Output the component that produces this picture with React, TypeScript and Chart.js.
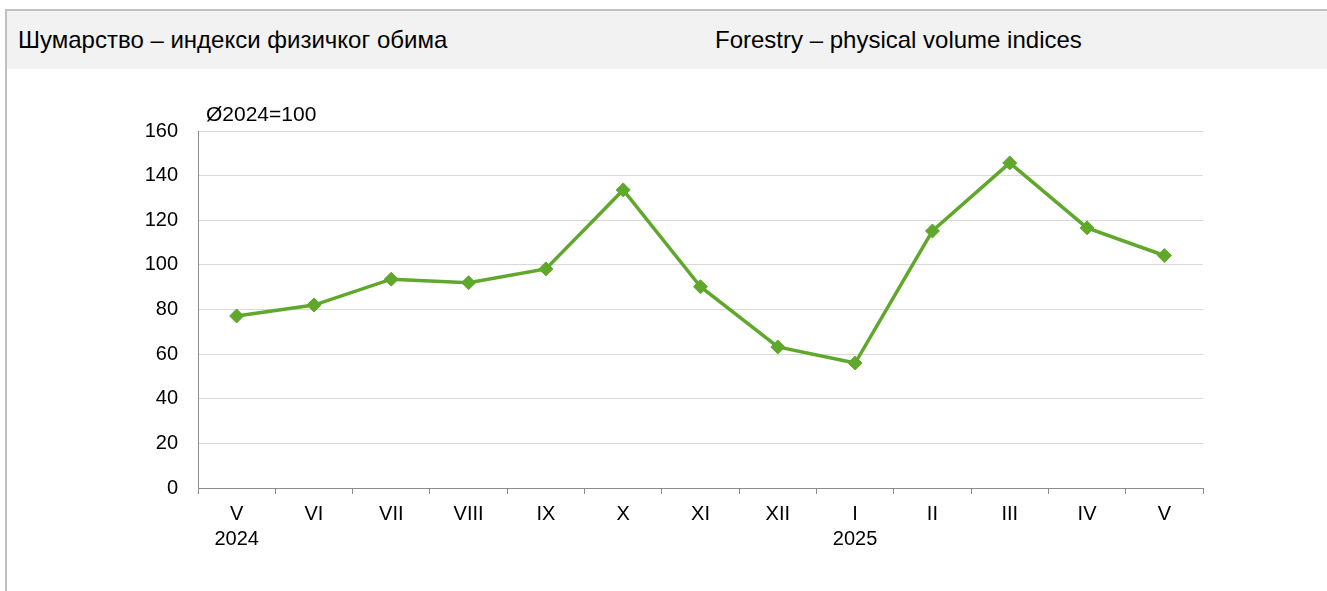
import React, { useEffect, useRef } from "react";
import { Chart, registerables } from "chart.js";

Chart.register(...registerables);

const categories: (string | string[])[] = [
  ["V", "2024"], "VI", "VII", "VIII", "IX", "X", "XI", "XII", ["I", "2025"], "II", "III", "IV", "V",
];
const forestryValues: number[] = [77.1, 82, 93.6, 92, 98.2, 133.6, 90.2, 63.2, 56, 115.2, 145.7, 116.6, 104.2];
const yTicks: number[] = [0, 20, 40, 60, 80, 100, 120, 140, 160];
const titleSr = "Шумарство – индекси физичког обима";
const titleEn = "Forestry – physical volume indices";
const yUnitLabel = "Ø2024=100";

const FONT = "'Liberation Sans', Arial, sans-serif";
const GREEN = "rgb(96,168,44)";

export default function App() {
  const canvasRef = useRef<HTMLCanvasElement | null>(null);

  useEffect(() => {
    const canvas = canvasRef.current;
    if (!canvas) return;
    const unitPlugin = {
      id: "unitLabel",
      afterDraw(chart: any) {
        const ctx = chart.ctx;
        ctx.save();
        ctx.font = `21px ${FONT}`;
        ctx.fillStyle = "#000";
        ctx.textBaseline = "middle";
        ctx.textAlign = "left";
        ctx.fillText(yUnitLabel, chart.chartArea.left + 8, chart.chartArea.top - 16);
        ctx.restore();
      },
    };
    const chart = new Chart(canvas, {
      type: "line",
      data: {
        labels: categories,
        datasets: [
          {
            data: forestryValues,
            borderColor: GREEN,
            backgroundColor: GREEN,
            borderWidth: 3.5,
            pointStyle: "rectRot",
            pointRadius: 7,
            pointBorderWidth: 1,
            pointBorderColor: GREEN,
            pointBackgroundColor: GREEN,
            tension: 0,
          },
        ],
      },
      options: {
        animation: false,
        responsive: false,
        maintainAspectRatio: false,
        layout: { padding: { left: 138, right: 124, top: 61, bottom: 33 } },
        plugins: { legend: { display: false }, tooltip: { enabled: false } },
        scales: {
          x: {
            type: "category",
            offset: true,
            grid: {
              offset: true,
              drawOnChartArea: false,
              drawTicks: true,
              tickLength: 6,
              color: "#8c8c8c",
            },
            border: { display: true, color: "#8c8c8c", width: 1 },
            ticks: {
              color: "#000",
              font: { family: FONT, size: 20, lineHeight: 1.25 },
              padding: 8,
              maxRotation: 0,
              autoSkip: false,
            },
            afterFit: (s: any) => {
              s.height = 70;
            },
          },
          y: {
            min: 0,
            max: 160,
            afterBuildTicks: (s: any) => {
              s.ticks = yTicks.map((v) => ({ value: v }));
            },
            grid: { color: "#d9d9d9", drawTicks: false },
            border: { display: true, color: "#8c8c8c", width: 1 },
            ticks: {
              color: "#000",
              font: { family: FONT, size: 20 },
              padding: 20,
            },
            afterFit: (s: any) => {
              s.width = 60;
            },
          },
        },
      },
      plugins: [unitPlugin],
    });
    return () => chart.destroy();
  }, []);

  const titleStyle: React.CSSProperties = {
    position: "absolute",
    top: 11,
    height: 58,
    lineHeight: "58px",
    fontFamily: FONT,
    fontSize: 24,
    color: "#000",
    whiteSpace: "nowrap",
  };

  return (
    <div style={{ position: "absolute", left: 0, top: 0, width: 1327, height: 591, background: "#fff", overflow: "hidden" }}>
      <div
        style={{
          position: "absolute",
          left: 5,
          top: 9,
          right: 0,
          bottom: 0,
          borderTop: "2px solid #c0c0c0",
          borderLeft: "2px solid #c0c0c0",
        }}
      />
      <div style={{ position: "absolute", left: 7, top: 11, right: 0, height: 58, background: "#f2f2f2" }} />
      <div style={{ ...titleStyle, left: 18 }}>{titleSr}</div>
      <div style={{ ...titleStyle, left: 715 }}>{titleEn}</div>
      <canvas ref={canvasRef} width={1327} height={521} style={{ position: "absolute", left: 0, top: 70 }} />
    </div>
  );
}
